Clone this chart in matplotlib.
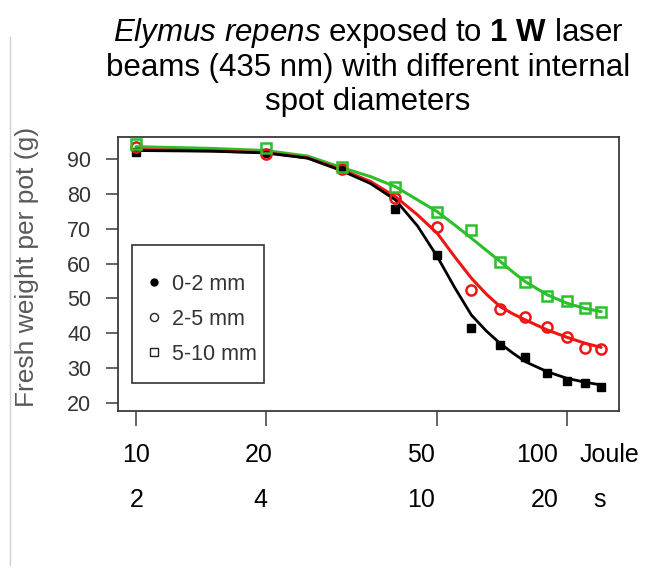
import matplotlib
matplotlib.use("Agg")
import matplotlib.pyplot as plt
from matplotlib.lines import Line2D
from matplotlib.patches import Rectangle

plt.rcParams["font.family"] = ["Liberation Sans", "DejaVu Sans"]
plt.rcParams["mathtext.fontset"] = "custom"
plt.rcParams["mathtext.rm"] = "Liberation Sans"
plt.rcParams["mathtext.it"] = "Liberation Sans:italic"
plt.rcParams["mathtext.bf"] = "Liberation Sans:bold"

# observed fresh weight (g) per pot at each laser dose (Joule)
dose = [10, 20, 30, 40, 50, 60, 70, 80, 90, 100, 110, 120]
w_0_2 = [92.2, 91.8, 87.1, 75.6, 62.5, 41.4, 36.6, 33.1, 28.5, 26.3, 25.6, 24.6]
w_2_5 = [93.5, 91.4, 87.1, 78.8, 70.4, 52.4, 46.9, 44.6, 41.9, 39.0, 35.6, 35.3]
w_5_10 = [94.3, 93.2, 87.9, 81.9, 74.9, 69.7, 60.4, 54.8, 50.7, 49.2, 47.1, 46.2]

# fitted dose-response curves at these doses
fit_dose = [10, 15, 20, 25, 30, 35, 40, 45, 50, 55, 60, 65, 70, 75, 80, 90, 100, 110, 120]
fit_0_2 = [92.5, 92.3, 91.8, 90.3, 86.7, 83.0, 78.3, 70.8, 62.0, 52.9, 45.2, 40.6, 37.0, 34.2, 31.8, 28.9, 27.0, 25.9, 25.1]
fit_2_5 = [92.8, 92.4, 91.9, 90.4, 87.0, 83.6, 79.2, 74.0, 68.7, 61.8, 55.8, 51.2, 47.6, 45.5, 43.8, 40.9, 38.8, 37.1, 35.9]
fit_5_10 = [93.6, 93.1, 92.5, 90.9, 87.6, 85.0, 82.1, 78.3, 74.9, 71.0, 67.3, 63.8, 60.6, 57.5, 54.8, 51.0, 48.6, 47.1, 46.2]

labels = ["0-2 mm", "2-5 mm", "5-10 mm"]
joule_ticks = [10, 20, 50, 100]
joule_text = ["10", "20", "50", "100", "Joule"]
sec_text = ["2", "4", "10", "20", "s"]
y_ticks = [20, 30, 40, 50, 60, 70, 80, 90]

W, H = 646, 577
fig = plt.figure(figsize=(W / 100, H / 100), dpi=100)
fig.patch.set_facecolor("white")


def fx(px):
    return px / W


def fy(py):
    return 1 - py / H


ax_l, ax_r, ax_t, ax_b = 117.7, 619, 137.3, 410.7
ax = fig.add_axes([fx(ax_l), fy(ax_b), fx(ax_r) - fx(ax_l), fy(ax_t) - fy(ax_b)])
ax.set_xscale("log")
ax.set_xlim(9.07, 132)
ax.set_ylim(17.7, 96.3)

green = "#2cbf2c"
red = "#f01515"

ax.plot(fit_dose, fit_5_10, color=green, lw=2.2, solid_capstyle="round", zorder=2)
ax.plot(fit_dose, fit_2_5, color=red, lw=2.2, solid_capstyle="round", zorder=2)
ax.plot(fit_dose, fit_0_2, color="black", lw=2.0, solid_capstyle="round", zorder=2)

ax.plot(dose, w_0_2, ls="none", marker="s", ms=5.3, color="black", zorder=3)
ax.plot(dose, w_2_5, ls="none", marker="o", ms=7.3, mfc="none", mec=red, mew=1.8, zorder=3)
ax.plot(dose, w_5_10, ls="none", marker="s", ms=7.5, mfc="none", mec=green, mew=1.8, zorder=3)

for s in ax.spines.values():
    s.set_color("#3a3a3a")
    s.set_linewidth(1.3)

ax.set_yticks(y_ticks)
ax.set_yticklabels([str(v) for v in y_ticks], fontsize=15.5, color="#333333")
ax.tick_params(axis="y", length=9, width=1.1, color="#3a3a3a", pad=10)
ax.set_xticks(joule_ticks)
ax.set_xticklabels([])
ax.xaxis.set_minor_locator(matplotlib.ticker.NullLocator())
ax.tick_params(axis="x", length=10.5, width=1.1, color="#3a3a3a")

# two rows of x labels: dose in Joule and exposure time in seconds
row1_x = [136.5, 259, 421, 537, 609]
row2_x = [137, 260, 421, 545, 600]
for t, x in zip(joule_text, row1_x):
    fig.text(fx(x), fy(462), t, ha="center", va="baseline", fontsize=18)
for t, x in zip(sec_text, row2_x):
    fig.text(fx(x), fy(507), t, ha="center", va="baseline", fontsize=18)

fig.text(fx(27), fy(267), "Fresh weight per pot (g)", rotation=90, ha="center", va="center",
         fontsize=19, color="#595959")

# legend: frame drawn separately so its size can follow the original
handles = [
    Line2D([], [], ls="none", marker="o", ms=5, color="black"),
    Line2D([], [], ls="none", marker="o", ms=5.8, mfc="none", mec="#222222", mew=1.0),
    Line2D([], [], ls="none", marker="s", ms=5.8, mfc="none", mec="#222222", mew=1.0),
]
leg_x = (150 - ax_l) / (ax_r - ax_l)
leg_y = (ax_b - 273.5) / (ax_b - ax_t)
leg = ax.legend(handles, labels, loc="upper left", bbox_to_anchor=(leg_x, leg_y),
                borderaxespad=0, fontsize=15.5, frameon=False,
                handlelength=0.4, handletextpad=0.64, borderpad=0, labelspacing=0.66)
for t in leg.get_texts():
    t.set_color("#333333")
box = Rectangle(((132.3 - ax_l) / (ax_r - ax_l), (ax_b - 382.7) / (ax_b - ax_t)),
                132 / (ax_r - ax_l), 137.7 / (ax_b - ax_t), transform=ax.transAxes,
                fill=False, edgecolor="#333333", lw=1.2, zorder=4)
ax.add_patch(box)

title_lines = [
    r"$\mathit{Elymus\ repens}$ exposed to $\mathbf{1\ W}$ laser",
    "beams (435 nm) with different internal",
    "spot diameters",
]
for line, y in zip(title_lines, [41, 76, 110]):
    fig.text(fx(368), fy(y), line, ha="center", va="baseline", fontsize=22.5)

# thin grey border line at the left edge of the original slide
fig.add_artist(Line2D([fx(9.5), fx(9.5)], [fy(37), fy(565)], color="#d0d0d0", lw=1))

fig.savefig("out.png", dpi=100, facecolor="white")
